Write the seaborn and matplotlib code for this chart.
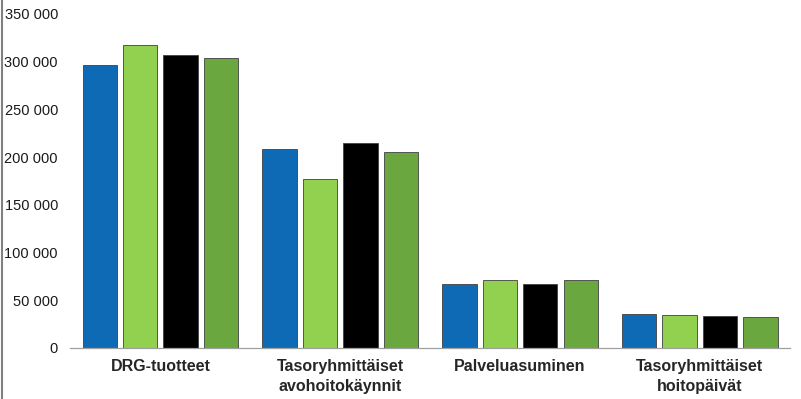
import pandas as pd
import matplotlib.pyplot as plt
import matplotlib.ticker as mticker
from matplotlib.lines import Line2D
import seaborn as sns

categories = ["DRG-tuotteet", "Tasoryhmittäiset\navohoitokäynnit",
              "Palveluasuminen", "Tasoryhmittäiset\nhoitopäivät"]
series = ["Sarja 1", "Sarja 2", "Sarja 3", "Sarja 4"]
values = [
    [296000, 317000, 306500, 304000],
    [208500, 177500, 214500, 205000],
    [67500, 71500, 67500, 71500],
    [36000, 34000, 33500, 32500],
]
colors = ["#0E6AB4", "#92D050", "#000000", "#6AA83F"]

rows = []
for c, vals in zip(categories, values):
    for s, v in zip(series, vals):
        rows.append({"kategoria": c, "sarja": s, "arvo": v})
df = pd.DataFrame(rows)

sns.set_style("white")
plt.rcParams['font.family'] = ['Liberation Sans', 'DejaVu Sans']

fig = plt.figure(figsize=(8.01, 3.99), dpi=100)
ax = fig.add_axes([0.088, 0.128, 0.898, 0.837])

sns.barplot(data=df, x="kategoria", y="arvo", hue="sarja", palette=colors,
            saturation=1, width=0.9, gap=0.15, edgecolor="#404040",
            linewidth=0.6, legend=False, ax=ax)

ax.set_ylim(0, 350000)
ax.set_yticks(range(0, 350001, 50000))
ax.yaxis.set_major_formatter(mticker.FuncFormatter(
    lambda v, p: f"{int(v):,}".replace(",", " ")))
ax.set_xlabel("")
ax.set_ylabel("")
for s in ["top", "right", "left"]:
    ax.spines[s].set_visible(False)
ax.spines["bottom"].set_color("#A0A0A0")
ax.spines["bottom"].set_linewidth(0.9)
ax.tick_params(axis="y", length=0, labelsize=10.5, pad=9, colors="#1a1a1a")
ax.tick_params(axis="x", length=0, labelsize=11.5, pad=8)
for t in ax.get_xticklabels():
    t.set_fontweight("bold")
    t.set_linespacing(1.45)

fig.add_artist(Line2D([0.002, 0.002], [0, 1], transform=fig.transFigure,
                      color="#808080", linewidth=1.5))

fig.savefig("out.png", dpi=100)
